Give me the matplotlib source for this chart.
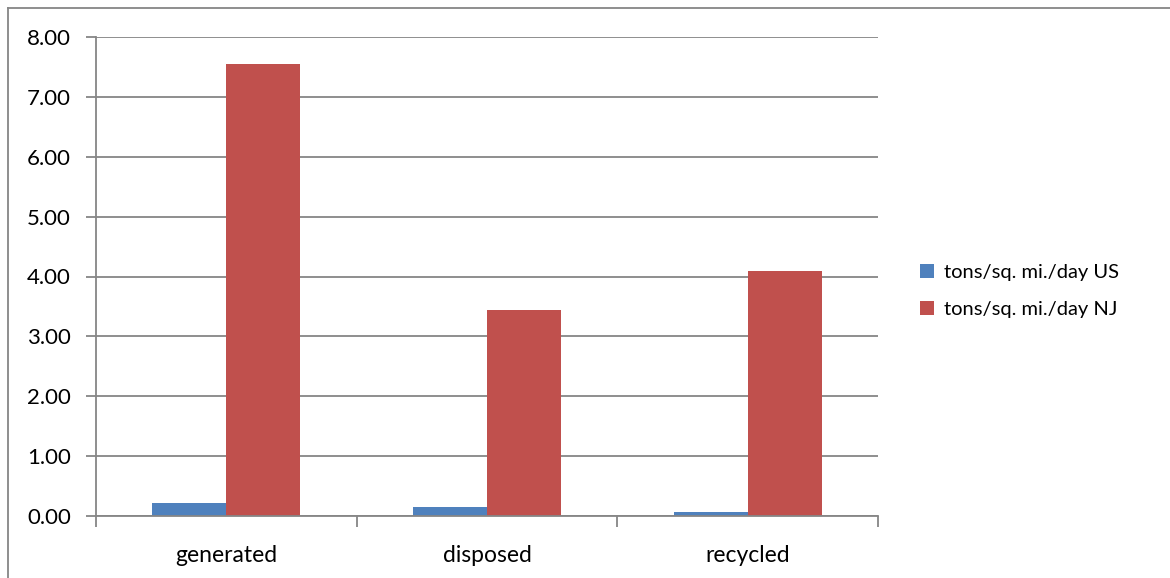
import matplotlib
matplotlib.use("Agg")
import matplotlib.pyplot as plt
from matplotlib.lines import Line2D
import numpy as np

categories = ["generated", "disposed", "recycled"]
us_values = [0.21, 0.145, 0.075]
nj_values = [7.55, 3.44, 4.09]
series_names = ["tons/sq. mi./day US", "tons/sq. mi./day NJ"]
y_ticks = [0, 1, 2, 3, 4, 5, 6, 7, 8]

plt.rcParams["font.family"] = ["Lato", "DejaVu Sans"]

fig = plt.figure(figsize=(11.7, 5.78), dpi=100)
ax = fig.add_axes([96 / 1170, 62 / 578, (878 - 96) / 1170, (516 - 37) / 578])

grid_c = "#868686"
x = np.arange(len(categories))
w = 0.284
ax.bar(x - w / 2, us_values, w, color="#4F81BD", label=series_names[0], zorder=3)
ax.bar(x + w / 2, nj_values, w, color="#C0504D", label=series_names[1], zorder=3)

ax.set_xlim(-0.5, len(categories) - 0.5)
ax.set_ylim(0, 8)
ax.set_yticks(y_ticks)
ax.set_yticklabels([f"{v:.2f}" for v in y_ticks])
ax.yaxis.grid(True, color=grid_c, linewidth=1.3, zorder=0)

ax.set_xticks(x)
ax.set_xticklabels(categories)
ax.set_xticks(np.arange(-0.5, len(categories)), minor=True)
ax.tick_params(axis="x", which="major", length=0, pad=21, labelsize=16.5, colors="black")
ax.tick_params(axis="x", which="minor", length=8, width=1.3, color=grid_c)
ax.tick_params(axis="y", length=7, width=1.3, color=grid_c, labelsize=16, pad=11,
               labelcolor="black")

for side in ["top", "right"]:
    ax.spines[side].set_visible(False)
for side in ["left", "bottom"]:
    ax.spines[side].set_color(grid_c)
    ax.spines[side].set_linewidth(1.3)
    ax.spines[side].set_zorder(4)

fig.legend(loc="center left", bbox_to_anchor=(902 / 1170, 0.5 - 2 / 578),
           frameon=False, fontsize=14.5, handlelength=0.7, handleheight=0.7,
           handletextpad=0.5, labelspacing=1.0)

# chart-area outline (left and top edges)
fig.add_artist(Line2D([7.5 / 1170, 7.5 / 1170], [0, 1 - 7.5 / 578],
                      transform=fig.transFigure, color=grid_c, linewidth=1.3))
fig.add_artist(Line2D([7.5 / 1170, 1], [1 - 7.5 / 578, 1 - 7.5 / 578],
                      transform=fig.transFigure, color=grid_c, linewidth=1.3))

fig.savefig("out.png", dpi=100)
